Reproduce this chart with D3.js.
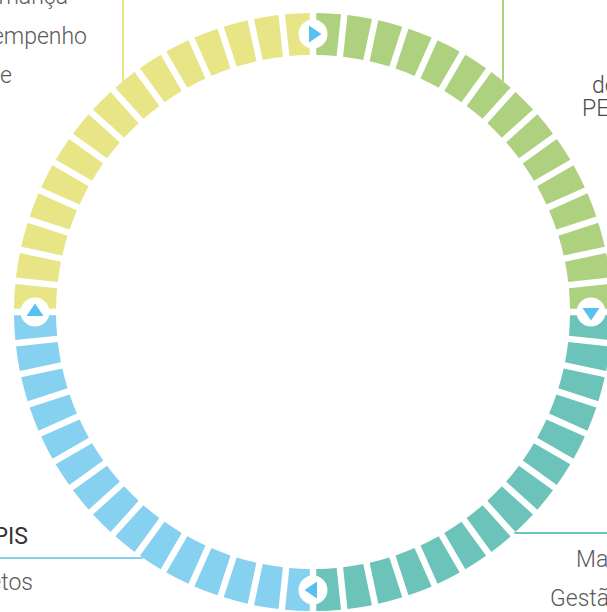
<!DOCTYPE html>
<html lang="pt">
<head>
<meta charset="utf-8">
<script src="https://cdn.jsdelivr.net/npm/d3@7"></script>
<style>
  body { margin: 0; background: #fff; }
  svg { display: block; font-family: Roboto, "Noto Sans", sans-serif; }
</style>
</head>
<body>
<div id="chart"></div>
<script>
// Ring sectors, clockwise from the top
const sectors = ["verde", "turquesa", "azul", "amarelo"];
const sectorColors = ["#aed17f", "#6cc3ba", "#86d0f0", "#e8e587"];
const stepsPerSector = [15, 15, 15, 15];

// Label texts (clipped by the frame, as in the original)
const labelTopLeft = ["Governança", "desempenho", "de"];
const labelTopRight = ["de", "PETI"];
const labelBottomLeftTitle = ["KPIS"];
const labelBottomLeft = ["projetos"];
const labelBottomRight = ["Mapa", "Gestão"];

const width = 607;
const height = 612;
const cx = 313, cy = 312;
const rInner = 257, rOuter = 299;
const rMid = (rInner + rOuter) / 2;

const svg = d3.select("#chart")
    .append("svg")
    .attr("width", width)
    .attr("height", height);

const total = d3.sum(stepsPerSector);
const angle = d3.scaleLinear().domain([0, total]).range([0, 2 * Math.PI]);
const color = d3.scaleOrdinal().domain(sectors).range(sectorColors);

// one entry per ring segment
const starts = d3.cumsum([0].concat(stepsPerSector)).slice(0, -1);
const segments = sectors.flatMap((s, i) =>
    d3.range(stepsPerSector[i]).map(j => ({ sector: s, step: starts[i] + j })));

const arc = d3.arc()
    .innerRadius(rInner)
    .outerRadius(rOuter)
    .padRadius(rMid)
    .padAngle(6.5 / rMid)
    .startAngle(d => angle(d.step))
    .endAngle(d => angle(d.step + 1));

const ring = svg.append("g").attr("transform", `translate(${cx},${cy})`);

ring.selectAll("path.seg")
    .data(segments)
    .join("path")
    .attr("class", "seg")
    .attr("d", arc)
    .attr("fill", d => color(d.sector));

// arrow markers at the start of each sector
const markers = ring.selectAll("g.marker")
    .data(sectors.map((s, i) => ({ sector: s, a: angle(starts[i]) })))
    .join("g")
    .attr("class", "marker")
    .attr("transform", d => `translate(${Math.sin(d.a) * rMid},${-Math.cos(d.a) * rMid}) rotate(${d.a * 180 / Math.PI})`);

markers.append("circle").attr("r", 14.5).attr("fill", "#fff");
markers.append("path").attr("d", "M-4,-8.5L8.5,0L-4,8.5Z").attr("fill", "#56c1ee");

// leader lines from the frame edge to the ring
const edgeY = x => cy - Math.sqrt(rOuter * rOuter - (x - cx) * (x - cx));
const edgeXLeft = y => cx - Math.sqrt(rOuter * rOuter - (y - cy) * (y - cy));
const edgeXRight = y => cx + Math.sqrt(rOuter * rOuter - (y - cy) * (y - cy));

const leaders = svg.append("g").attr("stroke-width", 2);
leaders.append("line").attr("x1", 123).attr("x2", 123).attr("y1", 0).attr("y2", edgeY(123)).attr("stroke", color("amarelo"));
leaders.append("line").attr("x1", 503).attr("x2", 503).attr("y1", 0).attr("y2", edgeY(503)).attr("stroke", color("verde"));
leaders.append("line").attr("x1", 0).attr("x2", edgeXLeft(558)).attr("y1", 558).attr("y2", 558).attr("stroke", color("azul"));
leaders.append("line").attr("x1", edgeXRight(533)).attr("x2", width).attr("y1", 533).attr("y2", 533).attr("stroke", color("turquesa"));

// text blocks
const text = svg.append("g").style("font-size", "23px");

text.selectAll("text.tl")
    .data(labelTopLeft)
    .join("text")
    .attr("class", "tl")
    .attr("x", (d, i) => [68, 87, 12][i])
    .attr("y", (d, i) => 4 + i * 39.5)
    .attr("text-anchor", "end")
    .attr("fill", "#5a5a5a")
    .attr("font-weight", 300)
    .text(d => d);

text.selectAll("text.tr")
    .data(labelTopRight)
    .join("text")
    .attr("class", "tr")
    .attr("x", (d, i) => [592, 582][i])
    .attr("y", (d, i) => 93 + i * 23)
    .attr("fill", "#4a4a4a")
    .attr("font-weight", 300)
    .text(d => d);

text.selectAll("text.blt")
    .data(labelBottomLeftTitle)
    .join("text")
    .attr("class", "blt")
    .attr("x", 28)
    .attr("y", 544)
    .attr("text-anchor", "end")
    .attr("fill", "#333")
    .text(d => d);

text.selectAll("text.bl")
    .data(labelBottomLeft)
    .join("text")
    .attr("class", "bl")
    .attr("x", 33)
    .attr("y", 590)
    .attr("text-anchor", "end")
    .attr("fill", "#5a5a5a")
    .attr("font-weight", 300)
    .text(d => d);

text.selectAll("text.br")
    .data(labelBottomRight)
    .join("text")
    .attr("class", "br")
    .attr("x", (d, i) => [576, 550][i])
    .attr("y", (d, i) => 567 + i * 39)
    .attr("fill", "#5a5a5a")
    .attr("font-weight", 300)
    .text(d => d);
</script>
</body>
</html>
